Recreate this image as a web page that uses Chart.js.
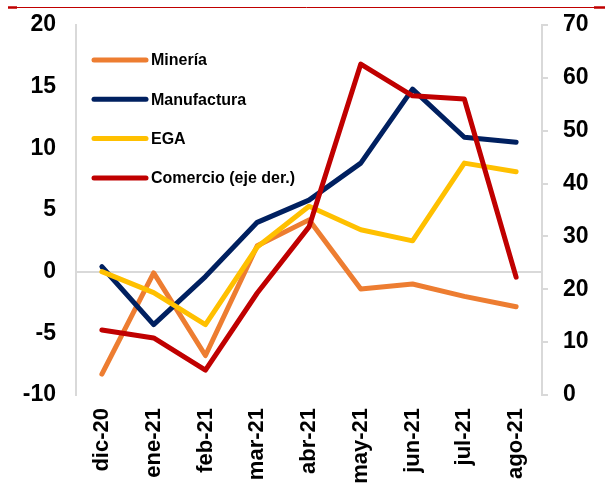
<!DOCTYPE html>
<html>
<head>
<meta charset="utf-8">
<script src="https://cdn.jsdelivr.net/npm/chart.js@4"></script>
<style>
  html, body { margin: 0; padding: 0; background: #fff; }
  #grafico { display: block; }
</style>
</head>
<body>
<canvas id="grafico" width="605" height="488"></canvas>
<script>
var meses = ["dic-20", "ene-21", "feb-21", "mar-21", "abr-21", "may-21", "jun-21", "jul-21", "ago-21"];
var mineria = [-8.3, -0.1, -6.8, 2.1, 4.2, -1.4, -1.0, -2.0, -2.85];
var manufactura = [0.4, -4.3, -0.4, 4.0, 5.8, 8.8, 14.8, 10.9, 10.5];
var ega = [0.0, -1.7, -4.3, 2.0, 5.3, 3.4, 2.5, 8.8, 8.1];
var comercio = [12.3, 10.8, 4.7, 19.3, 31.8, 62.6, 56.6, 56.0, 22.3];
var ticksIzq = [-10, -5, 0, 5, 10, 15, 20];
var ticksDer = [0, 10, 20, 30, 40, 50, 60, 70];

var cinzaEixo = "#d9d9d9";
var fonteEixo = { family: "Arial, 'Liberation Sans', sans-serif", size: 22, weight: "bold" };
var fonteY = { family: "Arial, 'Liberation Sans', sans-serif", size: 23, weight: "bold", lineHeight: 1 };

// legenda desenhada dentro da area do grafico, como no original
var legendaInterna = {
  id: "legendaInterna",
  afterDraw: function (chart) {
    var ctx = chart.ctx;
    var ds = chart.data.datasets;
    ctx.save();
    ctx.font = "bold 16px Arial, 'Liberation Sans', sans-serif";
    ctx.textBaseline = "middle";
    for (var i = 0; i < ds.length; i++) {
      var y = 60 + i * 39.3;
      ctx.strokeStyle = ds[i].borderColor;
      ctx.lineWidth = 5;
      ctx.lineCap = "round";
      ctx.beginPath();
      ctx.moveTo(94, y);
      ctx.lineTo(146, y);
      ctx.stroke();
      ctx.fillStyle = "#000";
      ctx.fillText(ds[i].label, 151, y + 1);
    }
    // linha vermelha no topo
    ctx.strokeStyle = "#C00000";
    ctx.lineCap = "butt";
    ctx.lineWidth = 1;
    ctx.beginPath();
    ctx.moveTo(8, 7.5);
    ctx.lineTo(605, 7.5);
    ctx.stroke();
    ctx.lineWidth = 2.5;
    ctx.beginPath();
    ctx.moveTo(8, 7.5);
    ctx.lineTo(17, 7.5);
    ctx.moveTo(594, 7.5);
    ctx.lineTo(605, 7.5);
    ctx.stroke();
    ctx.restore();
  },
};

function serie(label, data, cor, eixo, ordem) {
  return {
    label: label,
    data: data,
    borderColor: cor,
    backgroundColor: cor,
    borderWidth: 5,
    borderCapStyle: "round",
    borderJoinStyle: "round",
    pointRadius: 0,
    tension: 0,
    yAxisID: eixo,
    order: ordem,
  };
}

new Chart(grafico, {
  type: "line",
  data: {
    labels: meses,
    datasets: [
      serie("Minería", mineria, "#ED7D31", "y", 4),
      serie("Manufactura", manufactura, "#002060", "y", 3),
      serie("EGA", ega, "#FFC000", "y", 2),
      serie("Comercio (eje der.)", comercio, "#C00000", "y1", 1),
    ],
  },
  options: {
    responsive: false,
    animation: false,
    layout: {
      padding: { top: 25, left: 0, right: 0, bottom: 0 },
    },
    scales: {
      x: {
        offset: true,
        border: { display: false },
        grid: { display: false, drawTicks: false },
        ticks: {
          color: "#000",
          font: fonteEixo,
          minRotation: 90,
          maxRotation: 90,
          padding: 13,
        },
        afterFit: function (scale) {
          scale.height = 93;
        },
      },
      y: {
        position: "left",
        min: -10,
        max: 20,
        afterBuildTicks: function (scale) {
          scale.ticks = ticksIzq.map(function (v) { return { value: v }; });
        },
        border: { display: true, color: cinzaEixo, width: 2 },
        grid: {
          drawTicks: false,
          lineWidth: 2,
          color: function (c) {
            return c.tick && c.tick.value === 0 ? cinzaEixo : "rgba(0,0,0,0)";
          },
        },
        ticks: {
          color: "#000",
          font: fonteY,
          padding: 20,
        },
        afterFit: function (scale) {
          scale.width = 76;
          scale.paddingTop = 0;
          scale.paddingBottom = 0;
        },
      },
      y1: {
        position: "right",
        min: 0,
        max: 70,
        afterBuildTicks: function (scale) {
          scale.ticks = ticksDer.map(function (v) { return { value: v }; });
        },
        border: { display: true, color: cinzaEixo, width: 2 },
        grid: {
          drawOnChartArea: false,
          drawTicks: true,
          tickLength: 6,
          color: cinzaEixo,
          lineWidth: 2,
        },
        ticks: {
          color: "#000",
          font: fonteY,
          padding: 15,
        },
        afterFit: function (scale) {
          scale.width = 63;
          scale.paddingTop = 0;
          scale.paddingBottom = 0;
        },
      },
    },
    plugins: {
      legend: { display: false },
      tooltip: { enabled: false },
    },
  },
  plugins: [legendaInterna],
});
</script>
</body>
</html>
